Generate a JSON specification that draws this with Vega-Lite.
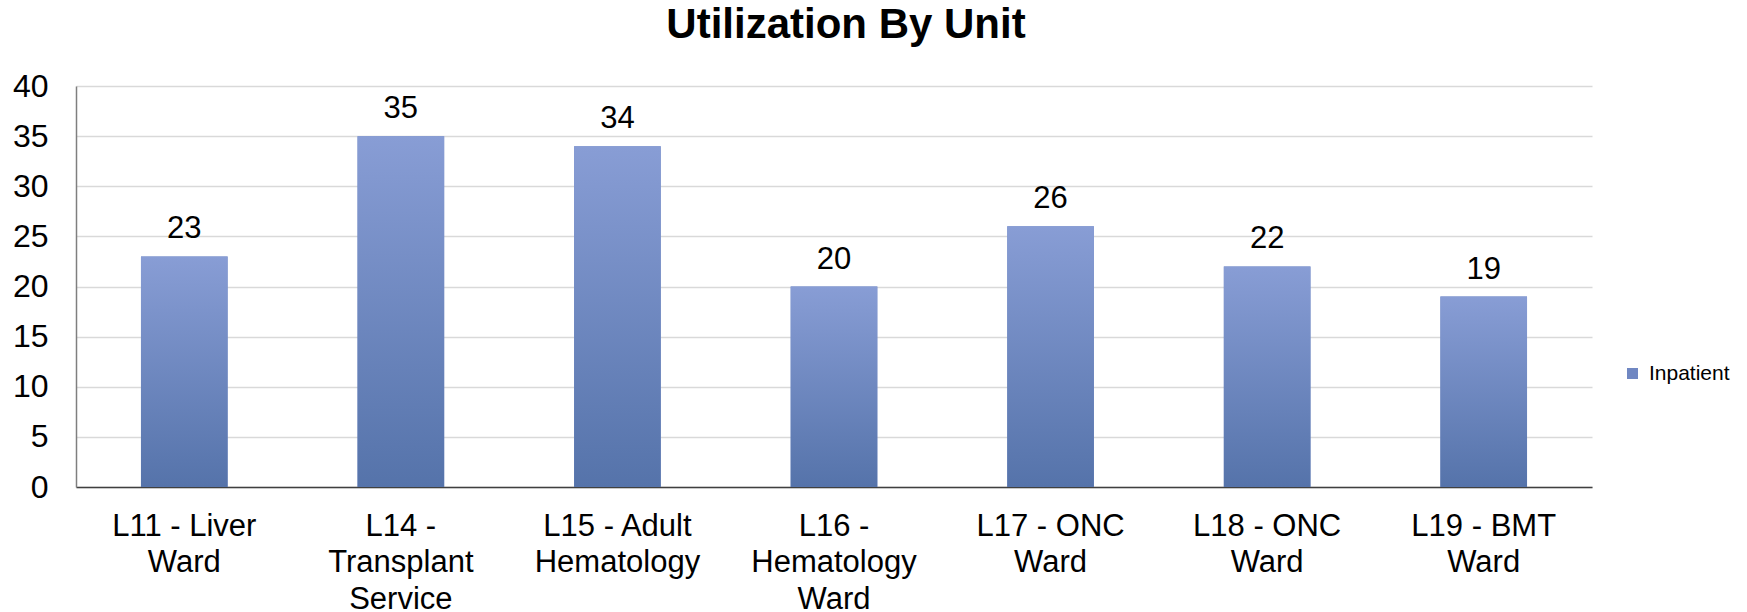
{
  "$schema": "https://vega.github.io/schema/vega-lite/v6.json",
  "width": 1516,
  "height": 401,
  "autosize": {"type": "none"},
  "padding": {"left": 76, "top": 86, "right": 155, "bottom": 125},
  "background": "white",
  "config": {
    "font": "Liberation Sans",
    "view": {"stroke": null}
  },
  "title": {
    "text": "Utilization By Unit",
    "font": "Liberation Sans",
    "fontSize": 42,
    "fontWeight": "bold",
    "color": "black",
    "anchor": "middle",
    "frame": "group",
    "dx": 12,
    "baseline": "alphabetic",
    "offset": -10
  },
  "data": {
    "values": [
      {"unit": "L11 - Liver\nWard", "series": "Inpatient", "count": 23},
      {"unit": "L14 -\nTransplant\nService", "series": "Inpatient", "count": 35},
      {"unit": "L15 - Adult\nHematology", "series": "Inpatient", "count": 34},
      {"unit": "L16 -\nHematology\nWard", "series": "Inpatient", "count": 20},
      {"unit": "L17 - ONC\nWard", "series": "Inpatient", "count": 26},
      {"unit": "L18 - ONC\nWard", "series": "Inpatient", "count": 22},
      {"unit": "L19 - BMT\nWard", "series": "Inpatient", "count": 19}
    ]
  },
  "encoding": {
    "x": {
      "field": "unit",
      "type": "nominal",
      "sort": null,
      "scale": {"paddingInner": 0.6, "paddingOuter": 0.3},
      "axis": {
        "title": null,
        "labelAngle": 0,
        "labelExpr": "split(datum.value, '\\n')",
        "labelFontSize": 31,
        "labelColor": "black",
        "labelLineHeight": 36.5,
        "labelPadding": 24,
        "ticks": false,
        "domainColor": "#404040",
        "domainWidth": 1.5,
        "labelBaseline": "top"
      }
    },
    "y": {
      "field": "count",
      "type": "quantitative",
      "scale": {"domain": [0, 40], "nice": false},
      "axis": {
        "title": null,
        "values": [0, 5, 10, 15, 20, 25, 30, 35, 40],
        "labelFontSize": 32,
        "labelColor": "black",
        "labelPadding": 28,
        "ticks": false,
        "domainColor": "#7f7f7f",
        "domainWidth": 1.5,
        "gridColor": "#d9d9d9",
        "gridWidth": 1.5
      }
    }
  },
  "layer": [
    {
      "mark": {"type": "bar"},
      "encoding": {
        "color": {
          "field": "series",
          "type": "nominal",
          "scale": {"range": ["#7087c2"]},
          "legend": {
            "title": null,
            "orient": "none",
            "legendX": 1546,
            "legendY": 277,
            "symbolType": "square",
            "symbolSize": 121,
            "symbolStrokeWidth": 0,
            "symbolOpacity": 1,
            "labelFontSize": 21,
            "labelColor": "black",
            "labelOffset": 6,
            "padding": 0
          }
        }
      }
    },
    {
      "mark": {
        "type": "bar",
        "color": {
          "gradient": "linear",
          "x1": 0, "y1": 0, "x2": 0, "y2": 1,
          "stops": [
            {"offset": 0, "color": "#889dd5"},
            {"offset": 1, "color": "#5573aa"}
          ]
        }
      }
    },
    {
      "mark": {
        "type": "text",
        "baseline": "alphabetic",
        "dy": -18,
        "fontSize": 31,
        "color": "black"
      },
      "encoding": {
        "text": {"field": "count", "type": "quantitative"}
      }
    }
  ]
}
